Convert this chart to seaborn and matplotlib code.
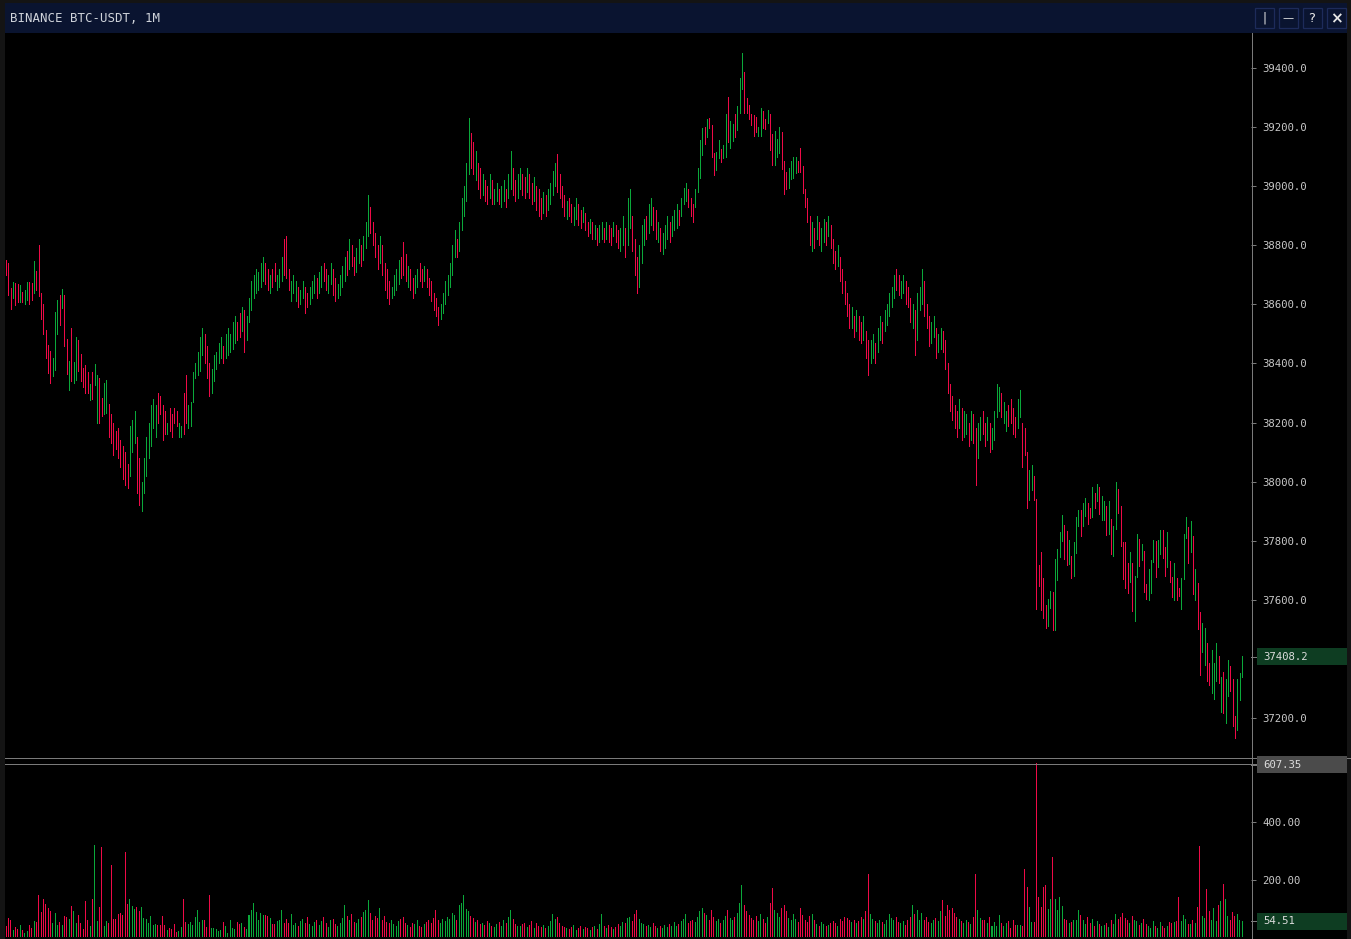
import matplotlib
matplotlib.use("Agg")
import matplotlib.pyplot as plt
from matplotlib.patches import Rectangle
from matplotlib.lines import Line2D
import numpy as np
import pandas as pd
import seaborn as sns

# ---------------- data ----------------
title = "BINANCE BTC-USDT, 1M"
last_close = 37408.2
price_ticks = [37200, 37600, 37800, 38000, 38200, 38400, 38600, 38800, 39000, 39200, 39400]
volume_ticks = [200, 400]

highs = [
    38750, 38740, 38655, 38676, 38672, 38669, 38665, 38642, 38650, 38676,
    38676, 38672, 38747, 38713, 38801, 38638, 38600, 38513, 38462, 38442,
    38418, 38574, 38615, 38632, 38652, 38632, 38483, 38408, 38520, 38405,
    38489, 38479, 38432, 38385, 38395, 38371, 38330, 38371, 38398, 38361,
    38351, 38283, 38334, 38344, 38262, 38230, 38200, 38170, 38180, 38140,
    38120, 38100, 38060, 38190, 38210, 38240, 38150, 38080, 38000, 38080,
    38150, 38200, 38260, 38280, 38260, 38300, 38290, 38260, 38240, 38200,
    38250, 38230, 38250, 38240, 38200, 38190, 38300, 38360, 38260, 38270,
    38370, 38400, 38440, 38490, 38520, 38500, 38460, 38400, 38380, 38430,
    38440, 38470, 38490, 38460, 38500, 38520, 38500, 38540, 38560, 38540,
    38570, 38590, 38580, 38560, 38620, 38680, 38700, 38720, 38710, 38740,
    38760, 38740, 38720, 38700, 38720, 38740, 38700, 38720, 38760, 38820,
    38830, 38720, 38680, 38700, 38680, 38660, 38650, 38680, 38660, 38640,
    38660, 38680, 38700, 38690, 38710, 38730, 38740, 38720, 38700, 38740,
    38720, 38690, 38670, 38700, 38730, 38760, 38780, 38820, 38800, 38760,
    38790, 38820, 38800, 38830, 38880, 38970, 38930, 38880, 38840, 38800,
    38830, 38800, 38740, 38720, 38680, 38660, 38700, 38720, 38750, 38760,
    38810, 38770, 38730, 38720, 38690, 38700, 38720, 38740, 38720, 38730,
    38720, 38690, 38680, 38640, 38620, 38590, 38600, 38640, 38680, 38700,
    38740, 38800, 38850, 38820, 38880, 38960, 39000, 39080, 39230, 39180,
    39150, 39120, 39080, 39060, 39040, 39020, 39000, 39040, 39020, 38990,
    39010, 38990, 39000, 39020, 38990, 39040, 39120, 39060, 39020, 39040,
    39060, 39040, 39030, 39060, 39040, 39010, 39030, 39000, 38990, 38960,
    38980, 38970, 38990, 39010, 39050, 39080, 39110, 39040, 39000, 38970,
    38950, 38960, 38940, 38930, 38960, 38940, 38920, 38930, 38910, 38880,
    38890, 38880, 38870, 38860, 38870, 38880, 38860, 38880, 38870, 38860,
    38880, 38870, 38850, 38860, 38900, 38860, 38960, 38990, 38900, 38820,
    38760, 38800, 38870, 38890, 38900, 38940, 38960, 38930, 38920, 38880,
    38860, 38840, 38870, 38900, 38880, 38900, 38920, 38940, 38920, 38960,
    38995, 39010, 38990, 38960, 38940, 38990, 39061, 39156, 39197, 39200,
    39227, 39231, 39207, 39112, 39116, 39156, 39126, 39140, 39244, 39302,
    39220, 39210, 39244, 39271, 39366, 39451, 39386, 39298, 39275, 39244,
    39241, 39234, 39200, 39265, 39254, 39227, 39258, 39244, 39177, 39187,
    39160, 39200, 39183, 39085, 39048, 39061, 39085, 39099, 39099, 39085,
    39129, 39068, 38990, 38960, 38900, 38880, 38860, 38900, 38880, 38860,
    38890, 38880, 38900, 38870, 38820, 38780, 38800, 38760, 38720, 38680,
    38640, 38600, 38590, 38560, 38580, 38560, 38540, 38560, 38510, 38480,
    38480, 38500, 38470, 38520, 38560, 38540, 38580, 38600, 38640, 38660,
    38700, 38720, 38700, 38680, 38700, 38680, 38660, 38620, 38600, 38580,
    38640, 38660, 38720, 38680, 38600, 38560, 38540, 38560, 38520, 38500,
    38520, 38510, 38480, 38400, 38330, 38290, 38260, 38240, 38280, 38250,
    38240, 38230, 38200, 38240, 38230, 38180, 38200, 38220, 38240, 38200,
    38220, 38200, 38180, 38240, 38330, 38320, 38300, 38270, 38240, 38260,
    38280, 38250, 38220, 38280, 38310, 38200, 38180, 38100, 38039, 38055,
    38018, 37941, 37718, 37762, 37674, 37582, 37603, 37630, 37627, 37738,
    37772, 37829, 37887, 37853, 37833, 37802, 37748, 37795, 37880, 37904,
    37904, 37928, 37944, 37928, 37911, 37982, 37961, 37992, 37982, 37951,
    37934, 37917, 37934, 37873, 37850, 37999, 37975, 37917, 37796, 37796,
    37724, 37762, 37724, 37680, 37823, 37806, 37789, 37765, 37653, 37704,
    37735, 37802, 37799, 37802, 37836, 37836, 37779, 37829, 37731, 37677,
    37724, 37674, 37640, 37674, 37823, 37880, 37846, 37867, 37816, 37704,
    37657, 37559, 37521, 37504, 37454, 37386, 37430, 37386, 37454, 37410,
    37339, 37356, 37332, 37396, 37376, 37332, 37207, 37332, 37352, 37410,
]

lows = [
    38700, 38632, 38584, 38621, 38598, 38608, 38608, 38608, 38600, 38615,
    38601, 38615, 38638, 38649, 38628, 38550, 38500, 38418, 38368, 38334,
    38357, 38378, 38500, 38530, 38588, 38459, 38364, 38310, 38340, 38334,
    38344, 38374, 38340, 38320, 38300, 38300, 38276, 38280, 38327, 38198,
    38198, 38222, 38229, 38232, 38150, 38130, 38090, 38110, 38080, 38050,
    38010, 37990, 37980, 38020, 38100, 38130, 37960, 37920, 37900, 37960,
    38020, 38080, 38120, 38180, 38150, 38200, 38230, 38140, 38160, 38160,
    38170, 38150, 38200, 38190, 38150, 38150, 38160, 38200, 38180, 38190,
    38270, 38350, 38360, 38375, 38430, 38400, 38350, 38290, 38300, 38340,
    38380, 38400, 38420, 38400, 38420, 38430, 38440, 38450, 38470, 38480,
    38490, 38510, 38440, 38480, 38540, 38580, 38620, 38640, 38650, 38660,
    38680, 38670, 38650, 38640, 38660, 38680, 38650, 38660, 38680, 38700,
    38690, 38650, 38610, 38640, 38610, 38590, 38600, 38620, 38570, 38590,
    38600, 38620, 38640, 38620, 38640, 38660, 38680, 38650, 38640, 38670,
    38630, 38610, 38620, 38630, 38660, 38680, 38700, 38720, 38730, 38700,
    38710, 38740, 38730, 38750, 38790, 38830, 38840, 38800, 38760, 38720,
    38740, 38700, 38650, 38620, 38600, 38620, 38630, 38650, 38670, 38690,
    38700, 38680, 38660, 38650, 38620, 38640, 38660, 38680, 38660, 38680,
    38660, 38630, 38610, 38580, 38560, 38530, 38550, 38570, 38600, 38630,
    38660, 38700, 38760, 38760, 38780, 38850, 38900, 38950, 39040, 39060,
    39040, 39020, 38990, 38960, 38970, 38950, 38940, 38960, 38940, 38940,
    38950, 38940, 38930, 38950, 38930, 38960, 38990, 38970, 38950, 38960,
    38990, 38970, 38960, 38980, 38960, 38940, 38950, 38920, 38900, 38890,
    38910, 38900, 38920, 38940, 38970, 39000, 38980, 38960, 38930, 38900,
    38890, 38900, 38880, 38870, 38890, 38870, 38860, 38880, 38850, 38830,
    38840, 38820, 38820, 38800, 38810, 38820, 38810, 38820, 38810, 38800,
    38830, 38810, 38790, 38780, 38800, 38760, 38800, 38860, 38780, 38700,
    38640, 38660, 38740, 38800, 38820, 38840, 38870, 38850, 38820, 38810,
    38780, 38770, 38790, 38820, 38810, 38830, 38850, 38860, 38870, 38900,
    38940, 38950, 38930, 38900, 38880, 38930, 38980, 39028, 39105, 39143,
    39166, 39197, 39099, 39038, 39055, 39095, 39082, 39095, 39099, 39150,
    39129, 39153, 39166, 39190, 39248, 39329, 39248, 39248, 39227, 39207,
    39170, 39183, 39170, 39170, 39197, 39193, 39214, 39122, 39072, 39072,
    39099, 39112, 39058, 38973, 38990, 38994, 39024, 39028, 39044, 39048,
    39048, 38977, 38930, 38880, 38800, 38780, 38790, 38820, 38800, 38780,
    38810, 38800, 38830, 38790, 38740, 38720, 38730, 38680, 38640, 38600,
    38560, 38520, 38520, 38490, 38510, 38480, 38470, 38480, 38420, 38360,
    38400, 38420, 38400, 38440, 38480, 38470, 38510, 38530, 38560, 38590,
    38620, 38650, 38630, 38620, 38640, 38600, 38590, 38540, 38520, 38430,
    38480, 38580, 38600, 38560, 38520, 38460, 38470, 38490, 38420, 38440,
    38450, 38440, 38380, 38300, 38240, 38210, 38180, 38150, 38180, 38140,
    38150, 38160, 38120, 38140, 38130, 37990, 38080, 38140, 38160, 38120,
    38140, 38100, 38110, 38140, 38220, 38240, 38220, 38200, 38170, 38190,
    38200, 38160, 38150, 38180, 38220, 38049, 38090, 37911, 37938, 37972,
    37938, 37569, 37647, 37565, 37538, 37504, 37511, 37572, 37498, 37498,
    37667, 37745, 37799, 37738, 37718, 37721, 37674, 37680, 37758, 37850,
    37816, 37850, 37883, 37857, 37877, 37880, 37911, 37934, 37890, 37870,
    37870, 37819, 37823, 37755, 37748, 37840, 37894, 37782, 37670, 37640,
    37623, 37660, 37562, 37528, 37677, 37714, 37735, 37627, 37603, 37599,
    37623, 37728, 37677, 37711, 37755, 37741, 37680, 37711, 37660, 37609,
    37599, 37599, 37613, 37569, 37670, 37809, 37724, 37762, 37620, 37599,
    37501, 37346, 37423, 37379, 37325, 37312, 37284, 37264, 37325, 37318,
    37220, 37217, 37183, 37274, 37291, 37173, 37132, 37159, 37261, 37339,
]

# u = up (green), d = down (red), 10 candles per chunk
direction_chunks = [
    "dddudduduu", "dduddddddd", "uuududdudu", "uddddduduu", "dduudddddd",
    "ddduuudduu", "uuuuuddddu", "dddduudduu", "uuuuuddduu", "uuuduuuuud",
    "duduuuuuuu", "uddudduuud", "dduuuduudd", "uuuduudduu", "dduuuududd",
    "uuduuudddd", "udddduuuud", "ddudduuddu", "dddddduuuu", "uuuduuuuud",
    "dudduddudu", "uduuduuddu", "uddudduddd", "uduuuudddd", "udduuddudd",
    "ududuududd", "udduuduudd", "duuuduuddu", "duuuduuudu", "uuddduuuud",
    "uddduuduud", "uuduuudddd", "dduudduddu", "uuddduuuud", "dddddududu",
    "ududdduddd", "ddududdudd", "uuduuduuuu", "udduudddud", "uuuddduudu",
    "udddddddud", "uududduudd", "uduuuuduud", "ddduuddduu", "dddddduudu",
    "uuudduduuu", "duuddududu", "ududuudddd", "duduududdu", "uuduuddudd",
    "udduuududu", "dduudduuud", "uduuddduuu",
]

volumes = [
    39, 67, 60, 25, 35, 28, 42, 25, 14, 21,
    42, 32, 56, 53, 148, 88, 134, 116, 102, 92,
    49, 85, 42, 53, 42, 74, 71, 64, 109, 92,
    49, 78, 49, 28, 124, 60, 39, 131, 321, 56,
    106, 314, 39, 56, 49, 251, 64, 64, 81, 85,
    78, 296, 116, 131, 109, 99, 106, 92, 106, 67,
    64, 49, 74, 42, 46, 42, 42, 74, 42, 25,
    32, 28, 46, 18, 21, 35, 134, 53, 46, 53,
    42, 71, 95, 53, 60, 60, 35, 145, 32, 32,
    28, 21, 25, 53, 39, 14, 60, 32, 28, 53,
    46, 49, 35, 28, 78, 95, 120, 88, 60, 85,
    78, 78, 74, 67, 46, 46, 56, 60, 95, 49,
    64, 49, 81, 42, 49, 40, 55, 62, 48, 70,
    45, 38, 52, 60, 42, 55, 70, 48, 36, 58,
    62, 45, 38, 50, 66, 113, 72, 58, 80, 54,
    48, 62, 70, 88, 95, 130, 85, 60, 72, 66,
    100, 58, 74, 52, 48, 60, 45, 38, 55, 62,
    70, 48, 42, 36, 50, 44, 58, 40, 35, 46,
    52, 60, 48, 66, 95, 58, 50, 62, 56, 70,
    64, 85, 78, 60, 110, 120, 148, 98, 90, 75,
    68, 54, 60, 45, 50, 42, 55, 48, 40, 36,
    44, 52, 38, 60, 48, 70, 95, 62, 45, 40,
    38, 44, 50, 36, 42, 55, 30, 48, 40, 35,
    42, 30, 38, 55, 80, 62, 70, 50, 40, 36,
    30, 28, 35, 42, 26, 32, 40, 28, 36, 30,
    25, 34, 40, 28, 45, 80, 38, 30, 42, 35,
    28, 36, 45, 40, 52, 48, 66, 70, 55, 80,
    95, 62, 50, 44, 38, 42, 36, 48, 40, 32,
    38, 30, 42, 35, 45, 40, 52, 38, 44, 55,
    62, 80, 48, 55, 60, 52, 70, 90, 100, 85,
    78, 60, 95, 70, 55, 62, 48, 58, 75, 95,
    66, 58, 70, 85, 120, 180, 110, 90, 76, 68,
    60, 72, 55, 80, 62, 48, 70, 120, 170, 95,
    85, 70, 100, 110, 92, 66, 58, 80, 62, 54,
    100, 78, 60, 52, 74, 80, 58, 46, 40, 52,
    45, 38, 42, 50, 56, 48, 40, 62, 55, 70,
    66, 58, 52, 60, 48, 55, 70, 62, 90, 219,
    80, 62, 55, 48, 60, 52, 45, 58, 80, 66,
    58, 70, 52, 48, 55, 42, 60, 70, 113, 80,
    95, 60, 85, 58, 70, 52, 48, 60, 66, 55,
    90, 130, 75, 110, 95, 100, 85, 70, 62, 55,
    48, 60, 52, 45, 70, 219, 95, 66, 58, 60,
    48, 70, 39, 53, 39, 78, 49, 39, 49, 56,
    32, 60, 42, 42, 42, 39, 236, 176, 106, 53,
    53, 607.35, 141, 106, 176, 180, 99, 134, 279, 134,
    95, 141, 109, 64, 60, 49, 53, 60, 60, 95,
    78, 60, 46, 71, 48, 62, 40, 55, 45, 38,
    42, 50, 36, 58, 44, 80, 62, 70, 85, 66,
    58, 48, 72, 60, 55, 42, 50, 64, 46, 38,
    32, 56, 39, 32, 53, 39, 32, 39, 53, 49,
    53, 56, 141, 56, 78, 64, 46, 46, 60, 49,
    106, 318, 74, 67, 166, 92, 60, 102, 56, 113,
    124, 184, 131, 74, 60, 88, 74, 81, 60, 54.51,
]

# ---------------- styling ----------------
GREEN = "#0aa83a"
RED = "#ee0a47"
AXIS = "#7a7a7a"
TEXT = "#c9c9c9"
FRAME = "#141414"
TITLEBAR = "#0a1430"
BTN_EDGE = "#1d2b5a"
GREEN_BOX = "#0e3d22"
GRAY_BOX = "#4b4b4b"
MONO = ["DejaVu Sans Mono", "DejaVu Sans"]
PX = 0.72  # one pixel in points at 100 dpi

sns.set_theme(style="dark")
plt.rcParams["font.family"] = MONO

direction = list("".join(direction_chunks))
n = min(len(highs), len(lows), len(volumes), len(direction))
idx = np.arange(n)
df = pd.DataFrame({
    "idx": idx,
    "high": np.array(highs[:n], dtype=float),
    "low": np.array(lows[:n], dtype=float),
    "volume": np.array(volumes[:n], dtype=float),
    "dir": direction[:n],
})
palette = {"u": GREEN, "d": RED}

W, H = 1351, 939
fig = plt.figure(figsize=(W / 100, H / 100), dpi=100)
fig.patch.set_facecolor(FRAME)


def rect_px(x0, y0, x1, y1, **kw):
    r = Rectangle((x0 / W, 1 - y1 / H), (x1 - x0) / W, (y1 - y0) / H,
                  transform=fig.transFigure, **kw)
    fig.add_artist(r)
    return r


def hline_px(y, x0, x1, **kw):
    fig.add_artist(Line2D([x0 / W, x1 / W], [1 - y / H, 1 - y / H],
                          transform=fig.transFigure, **kw))


# window background & title bar
rect_px(5, 33, 1347, 939, facecolor="black", lw=0, zorder=-5)
rect_px(5, 3, 1347, 33, facecolor=TITLEBAR, lw=0, zorder=-4)
fig.text(10 / W, 1 - 18.5 / H, title, fontsize=8.9, color="#cfd3da",
         ha="left", va="center", family=MONO)

for cx, sym, fs, fw in [(1264, "|", 8.5, "normal"), (1288, "—", 8, "normal"),
                         (1312, "?", 9.5, "normal"), (1336, "×", 11, "bold")]:
    rect_px(cx - 9.5, 8, cx + 9.5, 28, facecolor=TITLEBAR, edgecolor=BTN_EDGE,
            lw=0.9, zorder=2)
    fig.text(cx / W, 1 - 18.5 / H, sym, fontsize=fs, color="#e6e6e6",
             fontweight=fw, ha="center", va="center", zorder=3,
             family=["DejaVu Sans"])

# axes
ax_p = fig.add_axes([5 / W, 1 - 757 / H, 1246 / W, 724 / H])
ax_v = fig.add_axes([5 / W, 1 - 937 / H, 1246 / W, 174 / H])

# candles (1px wicks)
colors = [palette[d] for d in df["dir"]]
ax_p.vlines(df["idx"], df["low"], df["high"], colors=colors,
            linewidth=PX, antialiased=False)

# volume bars through seaborn
sns.barplot(data=df, x="idx", y="volume", hue="dir", palette=palette,
            native_scale=True, width=0.43, dodge=False, errorbar=None,
            saturation=1, linewidth=0, legend=False, ax=ax_v)
for p in ax_v.patches:
    p.set_antialiased(False)

rng = df["high"].max() - df["low"].min()
ax_p.set_ylim(df["low"].min() - 0.0275 * rng, df["high"].max() + 0.029 * rng)
ax_v.set_ylim(0, df["volume"].max())

for ax in (ax_p, ax_v):
    ax.set_facecolor("black")
    ax.set_xlim(-0.43, 532.85)
    ax.set_xticks([])
    ax.set_xlabel("")
    ax.set_ylabel("")
    ax.grid(False)
    for s in ax.spines.values():
        s.set_visible(False)
    ax.yaxis.tick_right()
    ax.tick_params(axis="y", which="both", left=False, right=True,
                   length=3.6, width=PX, color=AXIS, pad=4.6,
                   labelsize=7.7, labelcolor=TEXT, direction="out")

ax_p.set_yticks(price_ticks)
ax_p.set_yticklabels([f"{t:.1f}" for t in price_ticks], family=MONO)
ax_v.set_yticks(volume_ticks)
ax_v.set_yticklabels([f"{t:.2f}" for t in volume_ticks], family=MONO)

# frame lines (1 px)
fig.add_artist(Line2D([1251.5 / W, 1251.5 / W], [1 - 33 / H, 0],
                      transform=fig.transFigure, color=AXIS, lw=PX,
                      antialiased=False, zorder=4))
hline_px(757.5, 5, 1351, color=AXIS, lw=PX, antialiased=False, zorder=4)
hline_px(763.5, 5, 1257, color=AXIS, lw=PX, antialiased=False, zorder=4)
hline_px(938.5, 5, 1347, color="#3a3a3a", lw=PX, antialiased=False, zorder=4)


def fig_y_px(ax, v):
    return H - ax.transData.transform((0, v))[1]


def value_box(ypx, text, face):
    rect_px(1257, ypx - 8.5, 1347, ypx + 8.5, facecolor=face, lw=0, zorder=5)
    hline_px(ypx, 1251, 1256, color=AXIS, lw=PX, antialiased=False, zorder=5)
    fig.text(1263 / W, 1 - ypx / H, text, fontsize=7.7, color="#dcdcdc",
             ha="left", va="center", family=MONO, zorder=6)


value_box(fig_y_px(ax_p, last_close), f"{last_close:.1f}", GREEN_BOX)
vmax = df["volume"].max()
value_box(fig_y_px(ax_v, vmax) + 1.5, f"{vmax:.2f}", GRAY_BOX)
last_vol = df["volume"].iloc[-1]
value_box(fig_y_px(ax_v, last_vol), f"{last_vol:.2f}", GREEN_BOX)

fig.savefig("out.png", dpi=100, facecolor=FRAME)
